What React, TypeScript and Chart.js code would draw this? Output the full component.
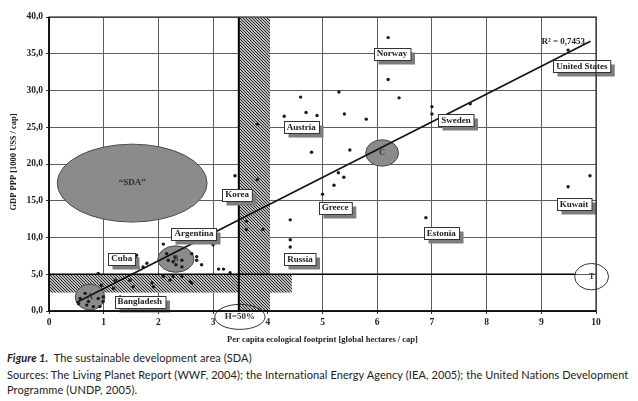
import { useEffect, useRef } from "react";
import { Chart, registerables } from "chart.js";

Chart.register(...registerables);

// ---------- data ----------
const footprint = [
  6.2, 6.2, 6.4, 5.3, 4.6, 4.3, 4.7, 4.9, 5.4, 5.8, 4.8, 5.5, 7.0, 7.0, 7.7, 9.49, 3.81, 3.4, 3.81, 5.29,
  5.39, 5.21, 5.0, 4.41, 4.41, 4.41, 3.61, 3.91, 3.61, 3.0, 2.79, 3.1, 3.19, 3.31, 9.89, 9.49, 6.89,
  0.9, 2.09, 2.61, 2.7, 2.7, 1.63, 1.72, 1.51, 1.79, 1.3, 1.39, 2.15, 2.18, 2.43, 2.43, 2.09, 2.27, 2.43,
  2.61, 1.21, 1.48, 1.54, 1.88, 1.91, 0.96, 1.18, 0.66, 0.57, 0.72, 0.9, 0.93, 0.81, 0.69, 0.99, 0.99,
  1.3, 0.54, 2.61, 2.21, 2.58, 2.27, 2.32, 2.3, 1.6, 1.6, 1.57,
];
const gdp = [
  37.2, 31.5, 29.0, 29.8, 29.1, 26.5, 27.0, 26.6, 26.8, 26.1, 21.6, 21.9, 27.8, 26.8, 28.2, 35.5, 25.4, 18.4, 17.9, 18.8,
  18.2, 17.1, 15.9, 12.4, 9.7, 8.7, 11.1, 11.1, 12.2, 9.0, 6.3, 5.7, 5.7, 5.2, 18.4, 16.9, 12.7,
  5.1, 9.1, 9.7, 7.4, 6.9, 5.9, 6.0, 5.9, 6.5, 6.3, 6.7, 7.8, 6.9, 6.9, 6.0, 4.7, 4.7, 4.7,
  3.8, 4.2, 4.2, 3.3, 3.8, 3.3, 3.5, 3.1, 2.4, 1.7, 1.3, 1.7, 0.6, 0.6, 0.8, 1.9, 1.3,
  1.9, 1.0, 7.8, 4.2, 4.0, 6.7, 6.3, 7.3, 7.6, 7.2, 6.7,
];

// regression line end points
const trendX = [0.5, 9.9];
const trendY = [1.16, 36.7];
const r2Label = "R² = 0,7453";

// country labels (centre in data units)
const countryNames = ["Norway", "Austria", "United States", "Sweden", "Korea", "Greece", "Russia", "Estonia", "Kuwait", "Argentina", "Cuba", "Bangladesh"];
const countryX = [6.27, 4.61, 9.74, 7.44, 3.44, 5.23, 4.59, 7.17, 9.6, 2.65, 1.33, 1.66];
const countryY = [35.03, 25.03, 33.33, 25.92, 15.85, 14.08, 7.01, 10.61, 14.56, 10.54, 7.14, 1.29];

// ellipses: centre x, centre y, radius x, radius y (data units), filled?
const ellipseNames = ["\u201CSDA\u201D", "A", "B", "C", "H=50%", "T"];
const ellipseCX = [1.52, 0.75, 2.32, 6.09, 3.49, 9.92];
const ellipseCY = [17.4, 1.9, 7.07, 21.5, -0.8, 4.67];
const ellipseRX = [1.37, 0.27, 0.33, 0.3, 0.46, 0.31];
const ellipseRY = [5.3, 1.75, 1.8, 1.8, 1.7, 1.8];
const ellipseFilled = [true, true, true, true, false, false];

// hatched bands: x0, x1, y0, y1
const bandX0 = [0, 3.47];
const bandX1 = [4.44, 4.04];
const bandY0 = [2.5, 0];
const bandY1 = [5.0, 40];

// threshold lines
const thresholdGdp = 5.0; // horizontal line
const thresholdGdpEnd = 9.61;
const thresholdFootprint = 3.47; // vertical line

const yTicks = [0, 5, 10, 15, 20, 25, 30, 35, 40];
const xTicks = [0, 1, 2, 3, 4, 5, 6, 7, 8, 9, 10];

const SERIF = "'Liberation Serif', 'DejaVu Serif', serif";

function makeHatch(): CanvasPattern | string {
  const c = document.createElement("canvas");
  c.width = 3;
  c.height = 3;
  const g = c.getContext("2d");
  if (!g) return "#777";
  g.fillStyle = "#ffffff";
  g.fillRect(0, 0, 3, 3);
  g.strokeStyle = "#1a1a1a";
  g.lineWidth = 1.1;
  g.beginPath();
  g.moveTo(-1, -1);
  g.lineTo(4, 4);
  g.moveTo(-1, 2);
  g.lineTo(1, 4);
  g.moveTo(2, -1);
  g.lineTo(4, 1);
  g.stroke();
  const p = g.createPattern(c, "repeat");
  return p || "#777";
}

const overlayPlugin = {
  id: "overlay",
  beforeDatasetsDraw(chart: any) {
    const { ctx, scales } = chart;
    const xs = scales.x;
    const ys = scales.y;
    const hatch = makeHatch();
    ctx.save();
    // hatched bands
    for (let i = 0; i < bandX0.length; i++) {
      const x0 = xs.getPixelForValue(bandX0[i]);
      const x1 = xs.getPixelForValue(bandX1[i]);
      const y0 = ys.getPixelForValue(bandY1[i]);
      const y1 = ys.getPixelForValue(bandY0[i]);
      ctx.fillStyle = hatch;
      ctx.fillRect(x0, y0, x1 - x0, y1 - y0);
    }
    // ellipses
    for (let i = 0; i < ellipseNames.length; i++) {
      const cx = xs.getPixelForValue(ellipseCX[i]);
      const cy = ys.getPixelForValue(ellipseCY[i]);
      const rx = Math.abs(xs.getPixelForValue(ellipseCX[i] + ellipseRX[i]) - cx);
      const ry = Math.abs(ys.getPixelForValue(ellipseCY[i] + ellipseRY[i]) - cy);
      ctx.beginPath();
      ctx.ellipse(cx, cy, rx, ry, 0, 0, Math.PI * 2);
      if (ellipseFilled[i]) {
        ctx.fillStyle = "#8b8b8b";
        ctx.fill();
        ctx.strokeStyle = "#4a4a4a";
        ctx.lineWidth = 1;
        ctx.stroke();
      } else {
        ctx.strokeStyle = "#333";
        ctx.lineWidth = 1;
        ctx.stroke();
      }
    }
    // threshold lines
    ctx.strokeStyle = "#000";
    ctx.lineWidth = 1.6;
    ctx.beginPath();
    ctx.moveTo(xs.getPixelForValue(0), ys.getPixelForValue(thresholdGdp));
    ctx.lineTo(xs.getPixelForValue(thresholdGdpEnd), ys.getPixelForValue(thresholdGdp));
    ctx.stroke();
    ctx.lineWidth = 2;
    ctx.beginPath();
    ctx.moveTo(xs.getPixelForValue(thresholdFootprint), ys.getPixelForValue(0));
    ctx.lineTo(xs.getPixelForValue(thresholdFootprint), ys.getPixelForValue(40));
    ctx.stroke();
    ctx.restore();
  },
  afterDatasetsDraw(chart: any) {
    const { ctx, scales, chartArea } = chart;
    const xs = scales.x;
    const ys = scales.y;
    ctx.save();
    // ellipse texts
    ctx.textAlign = "center";
    ctx.textBaseline = "middle";
    for (let i = 0; i < ellipseNames.length; i++) {
      const cx = xs.getPixelForValue(ellipseCX[i]);
      const cy = ys.getPixelForValue(ellipseCY[i]);
      ctx.font = `bold ${i === 0 || i === 4 ? 9 : 8}px ${SERIF}`;
      ctx.fillStyle = i === 0 ? "#2a2a2a" : "#333";
      ctx.fillText(ellipseNames[i], cx, cy);
    }
    // country labels
    ctx.font = `bold 9px ${SERIF}`;
    for (let i = 0; i < countryNames.length; i++) {
      const cx = xs.getPixelForValue(countryX[i]);
      const cy = ys.getPixelForValue(countryY[i]);
      const w = ctx.measureText(countryNames[i]).width + 6;
      const h = 12;
      const l = Math.round(cx - w / 2) + 0.5;
      const t = Math.round(cy - h / 2) + 0.5;
      ctx.fillStyle = "#7d7d7d";
      ctx.fillRect(l + 4, t + 4, w, h);
      ctx.fillStyle = "#fff";
      ctx.fillRect(l, t, w, h);
      ctx.strokeStyle = "#333";
      ctx.lineWidth = 1;
      ctx.strokeRect(l, t, w, h);
      ctx.fillStyle = "#222";
      ctx.fillText(countryNames[i], cx, cy + 0.5);
    }
    // R2 label
    ctx.font = `bold 9px ${SERIF}`;
    ctx.textAlign = "right";
    ctx.fillStyle = "#222";
    ctx.fillText(r2Label, xs.getPixelForValue(9.8), ys.getPixelForValue(36.6));
    // frame
    ctx.strokeStyle = "#333";
    ctx.lineWidth = 1.2;
    ctx.strokeRect(chartArea.left, chartArea.top, chartArea.right - chartArea.left, chartArea.bottom - chartArea.top);
    ctx.strokeStyle = "#000";
    ctx.lineWidth = 1.6;
    ctx.beginPath();
    ctx.moveTo(chartArea.left, chartArea.top);
    ctx.lineTo(chartArea.left, chartArea.bottom);
    ctx.lineTo(chartArea.right, chartArea.bottom);
    ctx.stroke();
    // axis titles
    ctx.fillStyle = "#222";
    ctx.font = `bold 8.5px ${SERIF}`;
    ctx.textAlign = "center";
    ctx.textBaseline = "middle";
    ctx.fillText("Per capita ecological footprint [global hectares / cap]", (chartArea.left + chartArea.right) / 2, 340);
    ctx.translate(14, (chartArea.top + chartArea.bottom) / 2 - 2);
    ctx.rotate(-Math.PI / 2);
    ctx.fillText("GDP PPP [1000 US$ / cap]", 0, 0);
    ctx.restore();
  },
};

export default function App() {
  const ref = useRef<HTMLCanvasElement | null>(null);

  useEffect(() => {
    document.body.style.margin = "0";
    if (!ref.current) return;
    const points = footprint.map((x, i) => ({ x, y: gdp[i] }));
    const trend = trendX.map((x, i) => ({ x, y: trendY[i] }));
    const chart = new Chart(ref.current, {
      type: "scatter",
      data: {
        datasets: [
          {
            data: points,
            pointRadius: 1.7,
            pointHoverRadius: 1.7,
            pointBackgroundColor: "#1a1a1a",
            pointBorderColor: "#1a1a1a",
            pointBorderWidth: 0,
            pointStyle: "circle",
          },
          {
            type: "line",
            data: trend,
            showLine: true,
            borderColor: "#111",
            borderWidth: 1.6,
            pointRadius: 0,
            fill: false,
          } as any,
        ],
      },
      options: {
        animation: false,
        responsive: false,
        events: [],
        layout: { padding: { left: 0, right: 42, top: 17, bottom: 0 } },
        plugins: { legend: { display: false }, tooltip: { enabled: false } },
        scales: {
          x: {
            type: "linear",
            min: 0,
            max: 10,
            afterFit: (s: any) => {
              s.height = 39;
            },
            afterBuildTicks: (s: any) => {
              s.ticks = xTicks.map((v) => ({ value: v }));
            },
            ticks: {
              padding: 3,
              color: "#222",
              font: { family: SERIF, size: 9.5, weight: "bold" },
              callback: (v: any) => String(v),
            },
            grid: { color: "#5e5e5e", lineWidth: 1, tickLength: 3, tickColor: "#333" },
            border: { display: false },
          },
          y: {
            type: "linear",
            min: 0,
            max: 40,
            afterFit: (s: any) => {
              s.width = 49;
            },
            afterBuildTicks: (s: any) => {
              s.ticks = yTicks.map((v) => ({ value: v }));
            },
            ticks: {
              padding: 3,
              color: "#222",
              font: { family: SERIF, size: 9.5, weight: "bold" },
              callback: (v: any) => Number(v).toFixed(1).replace(".", ","),
            },
            grid: { color: "#5e5e5e", lineWidth: 1, tickLength: 3, tickColor: "#333" },
            border: { display: false },
          },
        },
      },
      plugins: [overlayPlugin],
    });
    return () => chart.destroy();
  }, []);

  const cap: React.CSSProperties = {
    position: "absolute",
    left: 7,
    fontFamily: "Lato, 'Open Sans', sans-serif",
    fontSize: 11,
    letterSpacing: "0.09px",
    color: "#222",
    whiteSpace: "nowrap",
    lineHeight: "14px",
  };

  return (
    <div style={{ position: "relative", width: 638, height: 401, background: "#fff", overflow: "hidden" }}>
      <canvas ref={ref} width={638} height={350} style={{ position: "absolute", left: 0, top: 0 }} />
      <div style={{ ...cap, top: 351 }}>
        <b><i>Figure 1.</i></b>&nbsp; The sustainable development area (SDA)
      </div>
      <div style={{ ...cap, top: 368 }}>
        Sources: The Living Planet Report (WWF, 2004); the International Energy Agency (IEA, 2005); the United Nations Development
      </div>
      <div style={{ ...cap, top: 383 }}>Programme (UNDP, 2005).</div>
    </div>
  );
}
